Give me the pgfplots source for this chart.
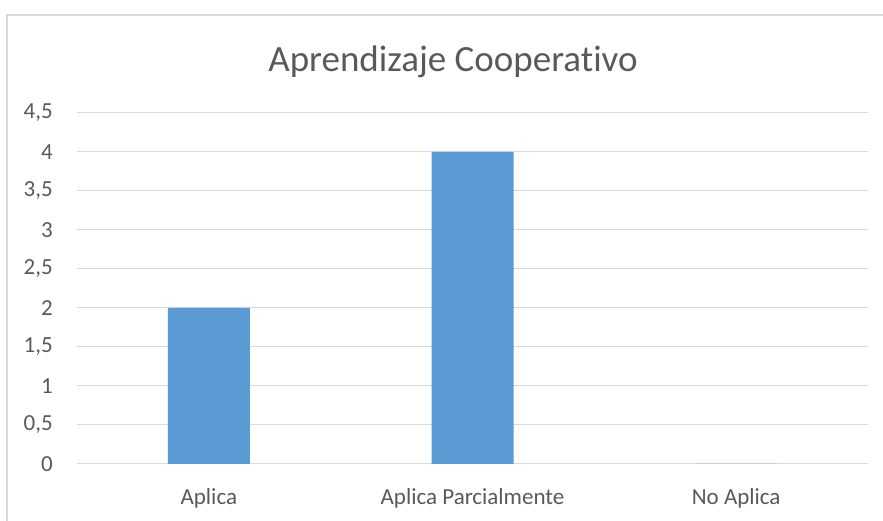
\documentclass[border=0pt]{standalone}
\usepackage{pgfplots}
\pgfplotsset{compat=1.18}
\usepackage{fontspec}
\setmainfont[Ligatures=NoCommon]{Carlito}
\definecolor{gridc}{HTML}{D9D9D9}
\definecolor{txt}{HTML}{595959}
\definecolor{barc}{HTML}{5B9BD5}
\begin{document}
\begin{tikzpicture}[x=1pt,y=1pt]
\useasboundingbox (0,0) rectangle (883,521);
\draw[gridc, line width=1.5pt] (7,-5) -- (7,506) -- (890,506);
\node[anchor=base, text=txt, inner sep=0pt, font=\fontsize{37}{40}\selectfont] at (453,449) {Aprendizaje Cooperativo};
\begin{axis}[
  at={(77pt,57pt)}, anchor=south west,
  scale only axis, width=791pt, height=351pt,
  xmin=-0.5, xmax=2.5, ymin=0, ymax=4.5,
  axis line style={draw=none},
  ytick={0,0.5,...,4.5},
  xtick={0,1,2},
  xticklabels={Aplica, Aplica Parcialmente, No Aplica},
  major tick length=0pt,
  ymajorgrids, grid style={gridc, line width=1pt},
  /pgf/number format/use comma,
  /pgf/number format/assume math mode=true,
  yticklabel style={anchor=east, inner sep=0pt, xshift=-24pt, text=txt, font=\fontsize{23}{26}\selectfont},
  xticklabel style={anchor=base, inner sep=0pt, yshift=-41pt, text=txt, font=\fontsize{23}{26}\selectfont},
  ybar, bar width=82pt,
  clip=false,
]
\addplot[fill=barc, draw=none] coordinates {(0,2) (1,4) (2,0)};
\end{axis}
\end{tikzpicture}
\end{document}
